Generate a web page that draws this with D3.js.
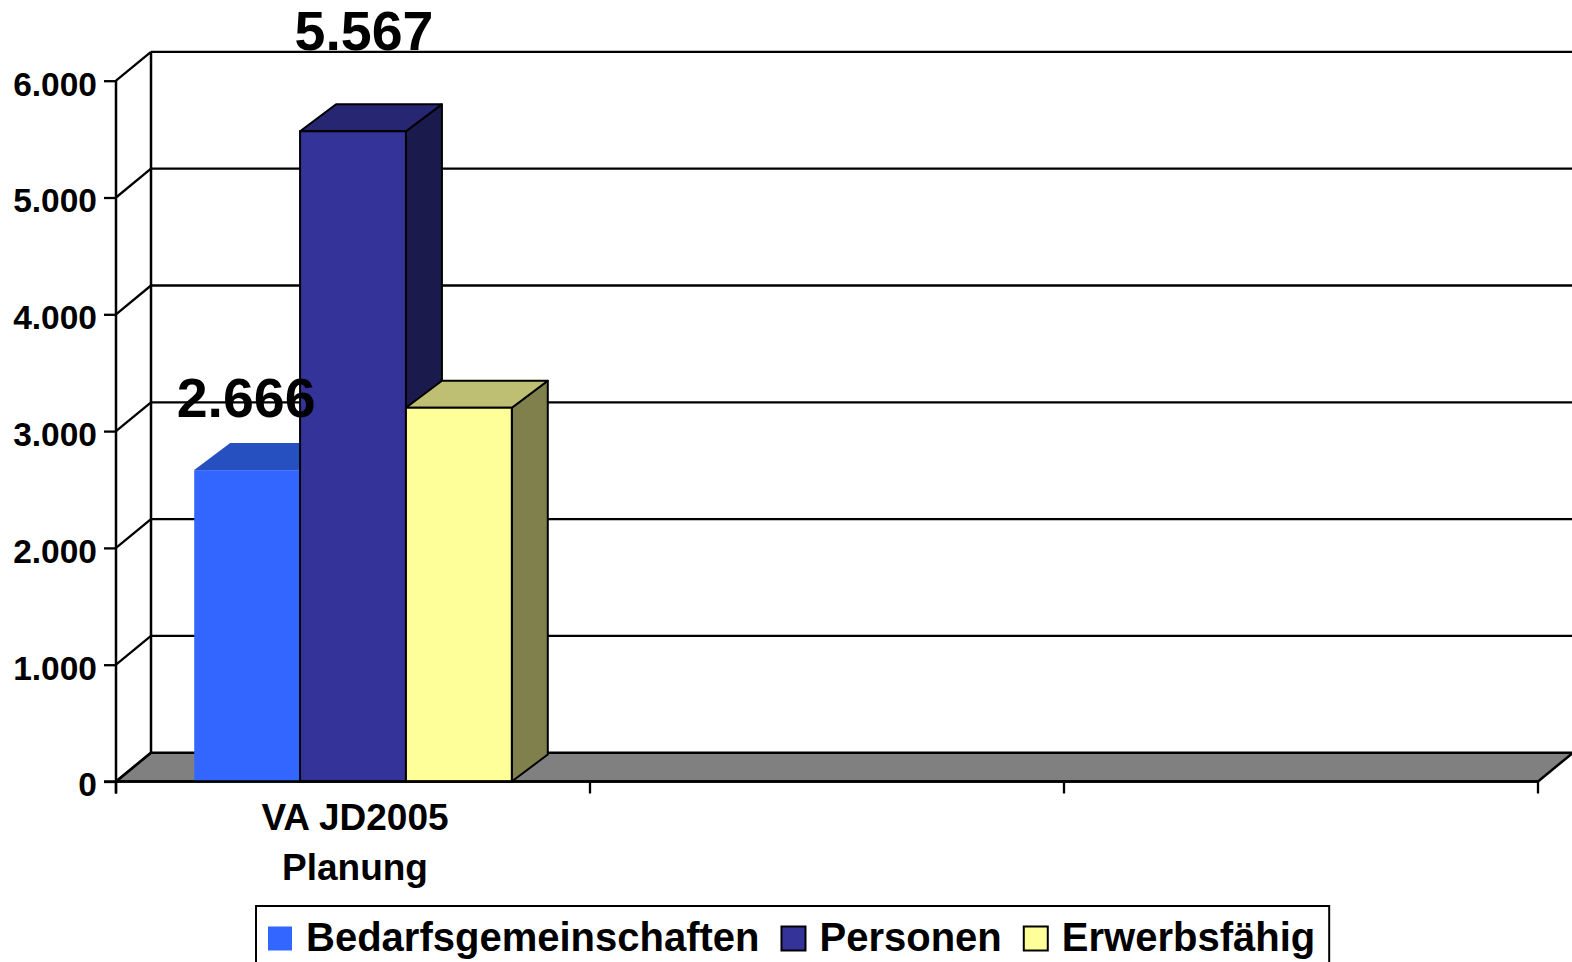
<!DOCTYPE html>
<html>
<head>
<meta charset="utf-8">
<script src="https://cdn.jsdelivr.net/npm/d3@7/dist/d3.min.js"></script>
<style>
  html, body { margin: 0; padding: 0; background: #ffffff; }
  svg { display: block; font-family: "Liberation Sans", Arial, sans-serif; font-weight: bold; }
</style>
</head>
<body>
<svg id="chart" width="1572" height="962"></svg>
<script>
// ---- data ----
const categories = ["VA JD2005\nPlanung", "", ""];
const seriesNames = ["Bedarfsgemeinschaften", "Personen", "Erwerbsfähig"];
const bedarfsgemeinschaften = [2666, null, null];
const personen = [5567, null, null];
const erwerbsfaehig = [3200, null, null];
const seriesValues = [bedarfsgemeinschaften, personen, erwerbsfaehig];
const showLabel = [true, true, false];
const yTicks = [0, 1000, 2000, 3000, 4000, 5000, 6000];

// ---- styles ----
const fronts = ["#3366FF", "#333399", "#FFFF99"];
const tops = ["#2650C0", "#262673", "#BFBF73"];
const sides = ["#1A3380", "#1A1A4D", "#80804D"];
const strokes = ["none", "#000", "#000"];

const svg = d3.select("#chart");
const W = 1572;

const y = d3.scaleLinear().domain([0, 6000]).range([781.5, 80.7]);
const x = d3.scaleBand().domain(d3.range(categories.length)).range([116, 1538]).padding(0);
const groupFrac = 0.67;
const xs = d3.scaleBand().domain(d3.range(seriesNames.length))
  .range([0, x.bandwidth() * groupFrac]).padding(0);

const wdx = 35, wdy = -28.8;   // wall depth
const bdx = 36, bdy = -27;     // bar depth
const x0 = x.range()[0], x1 = x.range()[1];

const deGerman = d3.formatLocale({decimal: ",", thousands: ".", grouping: [3], currency: ["", " €"]});
const fmt = deGerman.format(",d");

// floor
const g = svg.append("g");
g.append("polygon")
  .attr("points", [[x0, y(0)], [x1, y(0)], [x1 + wdx, y(0) + wdy], [x0 + wdx, y(0) + wdy]].map(p => p.join(",")).join(" "))
  .attr("fill", "#808080").attr("stroke", "#000").attr("stroke-width", 2.5).attr("stroke-linejoin", "round");

// gridlines on back wall + side wall
yTicks.forEach(t => {
  if (t > 0) {
    g.append("line").attr("x1", x0 + wdx).attr("x2", W + 40)
      .attr("y1", y(t) + wdy).attr("y2", y(t) + wdy)
      .attr("stroke", "#000").attr("stroke-width", 2.3);
  }
  g.append("line").attr("x1", x0).attr("y1", y(t)).attr("x2", x0 + wdx).attr("y2", y(t) + wdy)
    .attr("stroke", "#000").attr("stroke-width", 2.3);
});
g.append("line").attr("x1", x0 + wdx).attr("x2", x0 + wdx)
  .attr("y1", y(6000) + wdy).attr("y2", y(0) + wdy)
  .attr("stroke", "#000").attr("stroke-width", 2.5);

// y axis
const yAxis = d3.axisLeft(y).tickValues(yTicks).tickFormat(fmt).tickSize(12).tickPadding(7);
const ya = svg.append("g").attr("transform", `translate(${x0},0)`).call(yAxis);
ya.select(".domain").remove();
ya.selectAll(".tick line").attr("stroke", "#000").attr("stroke-width", 2.3);
ya.selectAll(".tick text").attr("font-size", 33.5).attr("font-weight", "bold")
  .attr("fill", "#000").attr("dy", "0.43em").attr("font-family", "Liberation Sans, Arial, sans-serif");
svg.append("line").attr("x1", x0).attr("x2", x0).attr("y1", y(6000)).attr("y2", y(0) + 12)
  .attr("stroke", "#000").attr("stroke-width", 2.5);

// bars
const bars = svg.append("g");
categories.forEach((c, ci) => {
  const gx = x(ci) + (x.bandwidth() - x.bandwidth() * groupFrac) / 2;
  seriesValues.forEach((vals, si) => {
    const v = vals[ci];
    if (v == null) return;
    const L = gx + xs(si), R = L + xs.bandwidth();
    const T = y(v), B = y(0);
    const bg = bars.append("g");
    // side
    bg.append("polygon")
      .attr("points", [[R, B], [R + bdx, B + bdy], [R + bdx, T + bdy], [R, T]].map(p => p.join(",")).join(" "))
      .attr("fill", sides[si]).attr("stroke", strokes[si]).attr("stroke-width", 2).attr("stroke-linejoin", "round");
    // top
    bg.append("polygon")
      .attr("points", [[L, T], [R, T], [R + bdx, T + bdy], [L + bdx, T + bdy]].map(p => p.join(",")).join(" "))
      .attr("fill", tops[si]).attr("stroke", strokes[si]).attr("stroke-width", 2).attr("stroke-linejoin", "round");
    // front
    bg.append("rect").attr("x", L).attr("y", T).attr("width", R - L).attr("height", B - T)
      .attr("fill", fronts[si]).attr("stroke", strokes[si]).attr("stroke-width", 2);
  });
});

// category axis line + ticks
svg.append("line").attr("x1", x0 - 12).attr("x2", x1).attr("y1", y(0)).attr("y2", y(0))
  .attr("stroke", "#000").attr("stroke-width", 2.5);
const edges = d3.range(categories.length + 1).map(i => x0 + i * x.bandwidth());
svg.selectAll(".ctick").data(edges).enter().append("line")
  .attr("x1", d => d).attr("x2", d => d).attr("y1", y(0)).attr("y2", y(0) + 12)
  .attr("stroke", "#000").attr("stroke-width", 2.3);

// category labels
categories.forEach((c, ci) => {
  if (!c) return;
  const t = svg.append("text").attr("text-anchor", "middle").attr("font-size", 37)
    .attr("x", x(ci) + x.bandwidth() / 2 + 2).attr("y", 830).attr("fill", "#000");
  c.split("\n").forEach((line, li) => {
    t.append("tspan").attr("x", x(ci) + x.bandwidth() / 2 + 2).attr("dy", li === 0 ? 0 : 49.5).text(line);
  });
});

// data labels (positions nudged as in the original)
const labelNudge = [[-1, -53], [11, -81], [0, -40]];
categories.forEach((c, ci) => {
  const gx = x(ci) + (x.bandwidth() - x.bandwidth() * groupFrac) / 2;
  seriesValues.forEach((vals, si) => {
    const v = vals[ci];
    if (v == null || !showLabel[si]) return;
    const cx = gx + xs(si) + xs.bandwidth() / 2;
    svg.append("text").attr("text-anchor", "middle").attr("font-size", 55.5)
      .attr("x", cx + labelNudge[si][0]).attr("y", y(v) + labelNudge[si][1])
      .attr("fill", "#000").text(fmt(v));
  });
});

// legend
const lg = svg.append("g");
const box = lg.append("rect").attr("x", 256).attr("y", 906).attr("height", 100)
  .attr("fill", "#fff").attr("stroke", "#000").attr("stroke-width", 2);
let lx = 268;
seriesNames.forEach((n, si) => {
  lg.append("rect").attr("x", lx).attr("y", 926.5).attr("width", 24).attr("height", 24)
    .attr("fill", fronts[si]).attr("stroke", strokes[si]).attr("stroke-width", 2);
  const tx = lg.append("text").attr("x", lx + 38).attr("y", 951).attr("font-size", 40)
    .attr("fill", "#000").text(n);
  lx = lx + 38 + tx.node().getComputedTextLength() + 22;
});
box.attr("width", lx - 22 + 14 - 256);
</script>
</body>
</html>
